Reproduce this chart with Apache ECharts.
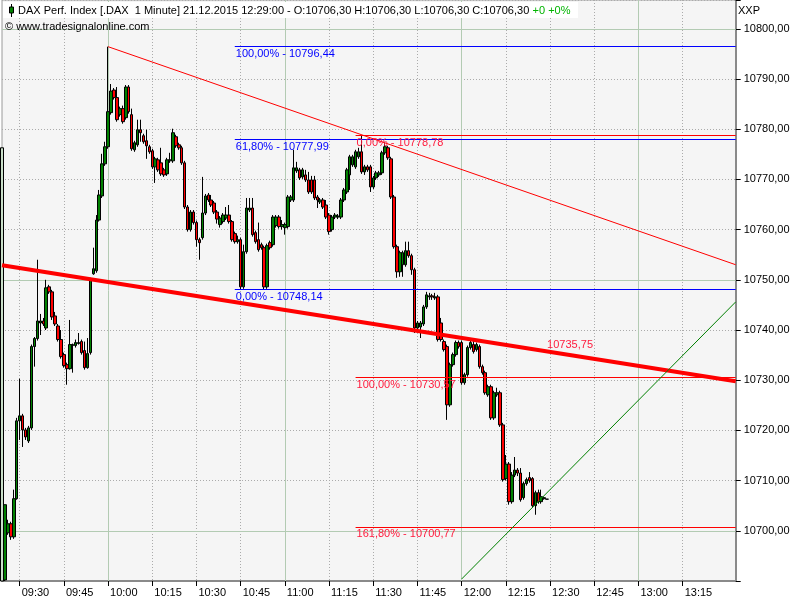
<!DOCTYPE html>
<html><head><meta charset="utf-8">
<script src="https://cdn.jsdelivr.net/npm/echarts@6.0.0/dist/echarts.min.js"></script>
<style>html,body{margin:0;padding:0;background:#fff}#c{width:800px;height:600px}</style>
</head><body><div id="c"></div>
<script>
// ---------- data ----------
const startTime = '09:24';
const endTime = '13:33';
// 1-minute candles from 09:24, each [open, close, low, high]
const candles = [
[10690.0,10776.3,10690.0,10776.3],[10690.2,10705.2,10690.0,10705.2],[10699.6,10701.4,10699.2,10702.2],[10701.4,10698.8,10698.2,10701.8],
[10698.8,10706.4,10698.4,10708.2],[10706.4,10721.9,10706.2,10722.5],[10721.9,10722.9,10718.1,10730.3],[10722.9,10720.1,10716.7,10723.3],
[10720.1,10718.7,10718.1,10720.5],[10717.9,10720.5,10717.5,10720.9],[10720.5,10736.7,10720.1,10737.1],[10736.7,10738.3,10732.7,10738.6],
[10738.3,10741.8,10737.9,10754.0],[10741.4,10741.8,10739.0,10743.2],[10741.8,10741.2,10740.8,10742.4],[10740.4,10748.4,10740.0,10750.0],
[10748.6,10747.6,10747.2,10749.0],[10747.6,10742.6,10742.0,10748.0],[10742.8,10741.2,10740.8,10743.6],[10740.8,10738.1,10737.7,10741.2],
[10738.1,10734.7,10734.3,10740.0],[10735.1,10732.9,10732.5,10735.5],[10733.1,10732.3,10729.1,10733.5],[10732.3,10737.1,10732.1,10742.0],
[10736.9,10737.1,10731.5,10737.3],[10736.9,10737.5,10736.5,10738.1],[10737.3,10737.5,10737.1,10739.4],[10737.7,10735.5,10735.1,10738.1],
[10735.9,10732.5,10732.1,10737.7],[10732.5,10735.3,10732.3,10738.4],[10735.5,10750.0,10735.1,10750.4],[10751.2,10752.2,10751.0,10756.4],
[10751.8,10761.9,10751.4,10762.9],[10761.9,10766.9,10761.6,10767.9],[10766.7,10773.1,10766.3,10775.1],[10773.1,10776.5,10772.7,10777.5],
[10776.5,10783.5,10776.1,10796.44],[10783.3,10787.6,10782.9,10789.0],[10787.8,10786.3,10785.9,10788.2],[10786.3,10781.9,10781.5,10788.4],
[10782.9,10784.1,10782.5,10784.5],[10784.1,10781.5,10781.1,10784.7],[10782.3,10788.4,10781.9,10788.8],[10788.4,10783.5,10783.1,10788.8],
[10782.9,10776.1,10775.7,10784.1],[10775.9,10777.3,10775.5,10777.7],[10776.9,10779.9,10776.5,10781.9],[10779.9,10779.3,10777.5,10781.9],
[10778.7,10777.5,10777.1,10779.1],[10777.7,10776.7,10774.1,10779.9],[10776.5,10775.5,10775.1,10776.9],[10775.7,10772.5,10772.1,10776.1],
[10772.5,10774.1,10769.3,10774.5],[10773.9,10771.9,10771.5,10774.3],[10773.3,10771.1,10770.7,10776.3],[10771.9,10770.9,10770.5,10772.3],
[10771.1,10773.9,10770.7,10774.3],[10773.7,10773.9,10773.3,10775.3],[10773.7,10779.3,10773.3,10780.1],[10778.5,10776.7,10776.3,10778.9],
[10776.9,10776.3,10775.9,10777.3],[10776.3,10773.3,10772.9,10776.7],[10773.3,10764.5,10764.1,10773.7],[10764.5,10760.0,10759.6,10764.9],
[10760.0,10763.5,10759.6,10763.9],[10763.5,10761.4,10761.0,10763.9],[10761.4,10758.0,10756.6,10761.8],[10758.0,10757.4,10754.0,10758.4],
[10758.4,10763.3,10758.0,10770.5],[10763.3,10766.7,10762.9,10767.1],[10766.9,10765.9,10765.5,10767.3],[10765.9,10764.9,10764.5,10766.9],
[10765.3,10763.5,10763.1,10765.7],[10763.5,10762.1,10761.2,10763.9],[10761.0,10762.3,10760.4,10762.7],[10761.6,10762.9,10761.2,10763.3],
[10762.3,10762.9,10761.9,10764.5],[10762.9,10761.6,10761.2,10764.9],[10761.6,10758.0,10757.6,10761.9],[10759.2,10757.6,10757.2,10759.6],
[10757.6,10758.0,10757.2,10758.8],[10758.0,10748.6,10748.14,10758.4],[10748.6,10755.6,10748.2,10757.0],[10755.6,10764.3,10755.2,10766.3],
[10763.9,10764.3,10763.5,10766.3],[10764.3,10759.0,10758.6,10766.3],[10759.4,10757.6,10757.2,10759.8],[10758.0,10756.0,10755.6,10761.4],
[10757.0,10756.4,10756.0,10757.4],[10756.4,10748.6,10748.14,10756.8],[10748.6,10756.8,10748.2,10757.2],[10757.4,10756.4,10756.0,10757.8],
[10757.0,10762.5,10756.6,10762.9],[10760.8,10762.5,10760.4,10762.9],[10762.5,10760.6,10760.2,10762.9],[10760.6,10761.0,10760.0,10761.9],
[10760.4,10761.0,10759.0,10761.4],[10760.6,10766.5,10760.2,10766.9],[10765.9,10766.5,10765.5,10766.9],[10765.9,10772.3,10765.5,10775.9],
[10771.7,10772.3,10771.3,10773.5],[10771.9,10770.3,10769.9,10772.3],[10770.5,10771.9,10770.1,10772.3],[10770.9,10769.9,10769.5,10771.9],
[10769.9,10767.5,10767.1,10771.5],[10769.9,10767.5,10767.1,10770.7],[10769.9,10766.3,10765.9,10770.7],[10766.5,10765.9,10764.3,10766.9],
[10765.5,10765.9,10765.1,10766.3],[10765.9,10764.5,10764.1,10766.3],[10764.9,10762.5,10762.1,10765.9],[10762.9,10759.6,10759.0,10763.3],
[10760.0,10762.5,10759.6,10762.9],[10762.5,10762.9,10762.1,10763.3],[10762.5,10762.7,10762.1,10763.1],[10762.5,10765.9,10762.1,10766.3],
[10765.9,10767.9,10765.5,10768.3],[10767.5,10771.9,10767.1,10772.3],[10770.9,10774.5,10767.9,10774.9],[10772.9,10774.5,10772.5,10774.9],
[10772.5,10775.5,10772.1,10775.9],[10774.5,10775.5,10774.1,10776.3],[10775.5,10771.5,10771.1,10778.78],[10771.5,10772.5,10770.9,10772.9],
[10772.5,10771.9,10771.5,10772.9],[10772.5,10768.5,10767.5,10772.9],[10768.5,10770.3,10768.1,10770.7],[10770.3,10771.3,10769.9,10771.7],
[10770.9,10771.3,10770.5,10771.7],[10771.3,10775.3,10770.9,10775.7],[10775.3,10776.5,10774.9,10777.5],[10776.3,10774.3,10773.9,10776.7],
[10774.1,10766.5,10766.1,10774.5],[10766.5,10756.6,10756.2,10766.9],[10756.6,10751.6,10750.4,10757.0],[10751.6,10755.4,10750.6,10755.8],
[10753.0,10755.4,10750.6,10755.8],[10753.0,10755.8,10752.6,10757.6],[10755.8,10754.8,10754.4,10757.6],[10754.8,10752.0,10751.0,10755.2],
[10752.0,10740.4,10739.4,10752.4],[10740.4,10741.4,10739.6,10741.8],[10740.6,10741.4,10738.4,10741.8],[10741.2,10744.6,10740.8,10745.0],
[10744.6,10747.0,10744.2,10747.6],[10746.6,10746.8,10746.0,10747.4],[10746.8,10746.6,10746.0,10747.2],[10746.4,10746.6,10746.0,10747.4],
[10746.6,10738.1,10737.7,10747.0],[10741.4,10738.1,10737.7,10742.4],[10737.7,10736.1,10735.7,10738.1],[10736.7,10725.1,10722.1,10737.1],
[10725.1,10733.1,10724.7,10733.5],[10733.1,10735.1,10732.7,10735.5],[10735.1,10737.5,10734.7,10737.9],[10737.5,10736.7,10736.3,10737.9],
[10737.5,10729.5,10729.1,10737.9],[10729.5,10731.1,10729.1,10731.5],[10731.1,10736.5,10730.7,10736.9],[10736.5,10737.5,10736.1,10737.9],
[10737.1,10735.7,10735.3,10738.1],[10736.1,10737.1,10735.7,10737.5],[10736.7,10732.7,10732.3,10737.1],[10732.7,10731.5,10731.1,10733.1],
[10731.5,10727.5,10727.1,10731.9],[10727.1,10728.7,10726.7,10729.1],[10728.7,10722.5,10722.1,10729.1],[10722.5,10727.5,10722.1,10727.9],
[10727.1,10727.5,10726.7,10728.5],[10727.5,10721.1,10720.7,10727.9],[10721.1,10710.2,10709.8,10721.5],[10710.4,10713.3,10710.0,10715.1],
[10713.3,10705.8,10705.2,10713.7],[10705.8,10711.1,10705.4,10711.7],[10711.1,10712.1,10710.7,10714.7],[10712.1,10711.5,10710.9,10712.5],
[10711.5,10706.2,10705.8,10712.5],[10706.6,10709.4,10706.2,10709.8],[10709.4,10710.2,10709.0,10710.6],[10710.6,10710.0,10709.6,10711.7],
[10710.4,10705.0,10704.6,10710.7],[10705.0,10707.6,10703.2,10708.0],[10707.6,10705.8,10705.4,10708.2],[10705.8,10706.8,10705.4,10708.2],
[10706.4,10706.6,10706.2,10706.8],[10706.3,10706.3,10706.3,10706.3]
];
const xTickLabels = ['09:30','09:45','10:00','10:15','10:30','10:45','11:00','11:15','11:30','11:45','12:00','12:15','12:30','12:45','13:00','13:15'];
const hourLines = ['10:00','11:00','12:00','13:00'];
const yGreenLines = [10700, 10750, 10800];
const fibBlueStart = '10:43';
const fibBlue = [['100,00%', 10796.44], ['61,80%', 10777.99], ['0,00%', 10748.14]];
const fibRedStart = '11:24';
const fibRed = [['0,00%', 10778.78], ['100,00%', 10730.57], ['161,80%', 10700.77]];
const trendThin = [['10:00', 10796.44], ['13:33', 10753.0]];
const trendThick = [['09:24', 10752.9], ['13:33', 10729.8]];
const trendThickValue = ['12:29', 10735.75];
const trendGreen = [['12:00', 10690.4], ['13:33', 10745.6]];
const headerText = 'DAX Perf. Index [.DAX  1 Minute] 21.12.2015 12:29:00 - O:10706,30 H:10706,30 L:10706,30 C:10706,30';
const headerChange = '+0 +0%';

// ---------- build ----------
function toMin(s){const p=s.split(':');return +p[0]*60+ +p[1];}
function toStr(m){return String(Math.floor(m/60)).padStart(2,'0')+':'+String(m%60).padStart(2,'0');}
const categories = [];
for (let m = toMin(startTime); m <= toMin(endTime); m++) categories.push(toStr(m));
const fmt = v => v.toFixed(2).replace('.', ',');
const tickSet = new Set(xTickLabels);
const isTick = (i, v) => tickSet.has(v);
const FONT = 'Liberation Sans';

const candleData = candles.map((c, i) => i === 0 ? {value: c, itemStyle: {color: '#c9dfc9'}} : c);

const lineItem = (a, b, style, label) => [
  {coord: a, lineStyle: style, label: label || {show: false}},
  {coord: b}
];
const markLines = [];
fibBlue.forEach(([p, v]) => markLines.push(lineItem([fibBlueStart, v], [endTime, v],
  {color: '#0000ff', width: 1, type: 'solid'},
  {show: true, position: 'insideStartBottom', formatter: p + ' - ' + fmt(v), color: '#0000ff', fontFamily: FONT, fontSize: 11, distance: [1, 2]})));
fibRed.forEach(([p, v]) => markLines.push(lineItem([fibRedStart, v], [endTime, v],
  {color: '#ff0000', width: 1, type: 'solid'},
  {show: true, position: 'insideStartBottom', formatter: p + ' - ' + fmt(v), color: '#ff1a3c', fontFamily: FONT, fontSize: 11, distance: [1, 2]})));
markLines.push(lineItem(trendThin[0], trendThin[1], {color: '#ff0000', width: 1, type: 'solid'}));
markLines.push(lineItem(trendThick[0], trendThick[1], {color: '#ff0000', width: 4, type: 'solid'}));
markLines.push(lineItem(trendGreen[0], trendGreen[1], {color: '#008000', width: 1, type: 'solid'}));

const option = {
  animation: false,
  backgroundColor: '#ffffff',
  grid: {left: 2, top: 0, width: 733.7, height: 581, show: true, backgroundColor: '#f5f5f5', borderColor: '#9a9a9a', borderWidth: 1},
  xAxis: {
    type: 'category', data: categories, boundaryGap: false,
    axisLine: {show: true, lineStyle: {color: '#8a8a8a', width: 2}},
    axisTick: {show: true, interval: isTick, length: 5, lineStyle: {color: '#000'}},
    axisLabel: {interval: isTick, align: 'left', margin: 6, padding: [0, 0, 0, 2], color: '#000', fontFamily: FONT, fontSize: 11},
    splitLine: {show: true, interval: isTick, lineStyle: {color: '#ababab', type: [1, 2], width: 1}}
  },
  yAxis: {
    type: 'value', position: 'right', min: 10690, max: 10805.74, interval: 10,
    axisLine: {show: true, lineStyle: {color: '#8a8a8a', width: 2}},
    axisTick: {show: true, length: 5, lineStyle: {color: '#000'}},
    axisLabel: {margin: 8, color: '#000', fontFamily: FONT, fontSize: 11,
      formatter: v => (Math.abs(v % 10) < 1e-6 && v > 10695) ? fmt(v) : ''},
    splitLine: {show: true, lineStyle: {color: '#ababab', type: [1, 2], width: 1}}
  },
  graphic: [
    {type: 'rect', shape: {x: 3, y: 2, width: 575, height: 16}, style: {fill: '#ffffff'}, z: 100},
    {type: 'line', shape: {x1: 11.5, y1: 4, x2: 11.5, y2: 17}, style: {stroke: '#000', lineWidth: 1}, z: 101},
    {type: 'rect', shape: {x: 9.5, y: 7, width: 4, height: 6}, style: {fill: '#008000', stroke: '#000', lineWidth: 1}, z: 102},
    {type: 'text', x: 18, y: 11, z: 103, style: {text: '{a|' + headerText + '} {g|' + headerChange + '}', verticalAlign: 'middle',
      rich: {a: {fill: '#000', fontFamily: FONT, fontSize: 11}, g: {fill: '#00b400', fontFamily: FONT, fontSize: 11}}}},
    {type: 'text', x: 5, y: 27, z: 103, style: {text: '\u00a9 www.tradesignalonline.com', fill: '#000', fontFamily: FONT, fontSize: 11, verticalAlign: 'middle'}},
    {type: 'text', x: 738, y: 11, z: 103, style: {text: 'XXP', fill: '#000', fontFamily: FONT, fontSize: 11, verticalAlign: 'middle'}}
  ],
  series: [
    {
      type: 'line', data: [], silent: true,
      markLine: {silent: true, symbol: 'none', z: 1, label: {show: false},
        lineStyle: {color: '#b3cbb3', width: 1, type: 'solid'},
        data: [...hourLines.map(h => ({xAxis: h})), ...yGreenLines.map(v => ({yAxis: v}))]}
    },
    {
      type: 'candlestick', data: candleData, barWidth: 3,
      itemStyle: {color: '#008000', color0: '#ff0000', borderColor: '#000', borderColor0: '#000', borderColorDoji: '#000', borderWidth: 1},
      markLine: {silent: true, symbol: 'none', z: 5, data: markLines},
      markPoint: {silent: true, symbol: 'circle', symbolSize: 0, z: 6,
        data: [{coord: trendThickValue, label: {show: true, position: 'top', align: 'left', distance: 1,
          formatter: fmt(trendThickValue[1]), color: '#ff1a3c', fontFamily: FONT, fontSize: 11}}]}
    }
  ]
};
const chart = echarts.init(document.getElementById('c'));
chart.setOption(option);
</script></body></html>
